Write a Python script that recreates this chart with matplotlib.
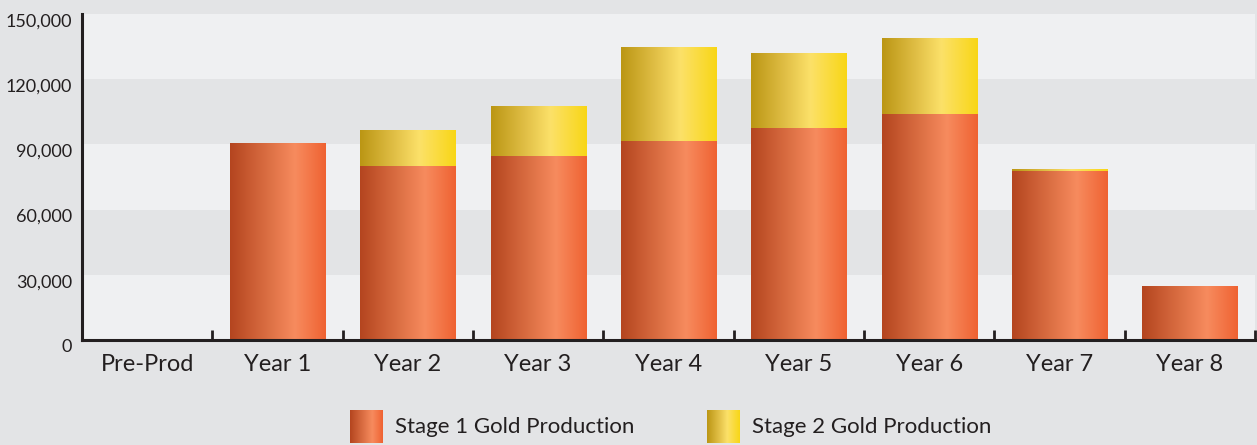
import numpy as np
import matplotlib
matplotlib.use('Agg')
import matplotlib.pyplot as plt
from matplotlib.colors import LinearSegmentedColormap
from matplotlib.ticker import FuncFormatter
import matplotlib.transforms as mtransforms

# 数据
categories = ['Pre-Prod', 'Year 1', 'Year 2', 'Year 3', 'Year 4', 'Year 5', 'Year 6', 'Year 7', 'Year 8']
stage1 = [0, 90600, 80000, 84700, 91600, 97500, 104000, 77800, 24400]
stage2 = [0, 0, 16200, 23000, 43200, 34500, 34800, 900, 0]
series_names = ['Stage 1 Gold Production', 'Stage 2 Gold Production']
y_ticks = [0, 30000, 60000, 90000, 120000, 150000]

plt.rcParams['font.family'] = ['Lato', 'DejaVu Sans']
text_color = '#231f20'
bg_dark = '#e3e4e6'
bg_light = '#eff0f2'

# 渐变色
orange_cmap = LinearSegmentedColormap.from_list(
    'orange', [(0, '#b4451f'), (0.35, '#d76a3f'), (0.68, '#f78b5e'), (1, '#ef6232')])
gold_cmap = LinearSegmentedColormap.from_list(
    'gold', [(0, '#bb9614'), (0.35, '#e0be45'), (0.62, '#fce169'), (1, '#f8d616')])
grad = np.linspace(0, 1, 256).reshape(1, -1)

fig = plt.figure(figsize=(12.57, 4.45), dpi=100, facecolor=bg_dark)
ax = fig.add_axes([82 / 1257, 105 / 445, 1173 / 1257, 326 / 445])
ax.set_facecolor(bg_light)

# 背景条纹
for i in range(len(y_ticks) - 1):
    if i % 2 == 1:
        ax.axhspan(y_ticks[i], y_ticks[i + 1], color=bg_dark, lw=0, zorder=0)

x = np.arange(len(categories))
bars1 = ax.bar(x, stage1, width=0.73, color='none', lw=0)
bars2 = ax.bar(x, stage2, width=0.73, bottom=stage1, color='none', lw=0)

# 用imshow画渐变柱
for bars, cmap in [(bars1, orange_cmap), (bars2, gold_cmap)]:
    for p in bars:
        if p.get_height() <= 0:
            continue
        x0, y0 = p.get_x(), p.get_y()
        ax.imshow(grad, cmap=cmap, aspect='auto', interpolation='bilinear',
                  extent=(x0, x0 + p.get_width(), y0, y0 + p.get_height()), zorder=2)

ax.set_xlim(-0.5, len(categories) - 0.5)
ax.set_ylim(0, 150000)

for s in ['top', 'right']:
    ax.spines[s].set_visible(False)
for s in ['left', 'bottom']:
    ax.spines[s].set_linewidth(2.2)
    ax.spines[s].set_color(text_color)
    ax.spines[s].set_zorder(5)

ax.set_yticks(y_ticks)
ax.yaxis.set_major_formatter(FuncFormatter(lambda v, p: '{:,.0f}'.format(v)))
ax.tick_params(axis='y', length=0, pad=7, labelsize=13, labelcolor=text_color)
offset = mtransforms.ScaledTranslation(0, -6 / 100, fig.dpi_scale_trans)
for lab in ax.get_yticklabels():
    lab.set_transform(lab.get_transform() + offset)

ax.set_xticks(x)
ax.set_xticklabels(categories)
ax.tick_params(axis='x', which='major', length=0, pad=10, labelsize=17, labelcolor=text_color)
ax.set_xticks(np.arange(0.5, len(categories), 1), minor=True)
ax.tick_params(axis='x', which='minor', direction='in', length=7, width=2, color=text_color)

# 图例
legend_items = [(350, orange_cmap, series_names[0]), (707, gold_cmap, series_names[1])]
for lx, cmap, name in legend_items:
    lax = fig.add_axes([lx / 1257, 2 / 445, 33 / 1257, 33 / 445])
    lax.imshow(grad, cmap=cmap, aspect='auto', interpolation='bilinear')
    lax.axis('off')
    fig.text((lx + 45) / 1257, 18 / 445, name, fontsize=16, color=text_color, va='center')

fig.savefig('out.png', dpi=100, facecolor=bg_dark)
